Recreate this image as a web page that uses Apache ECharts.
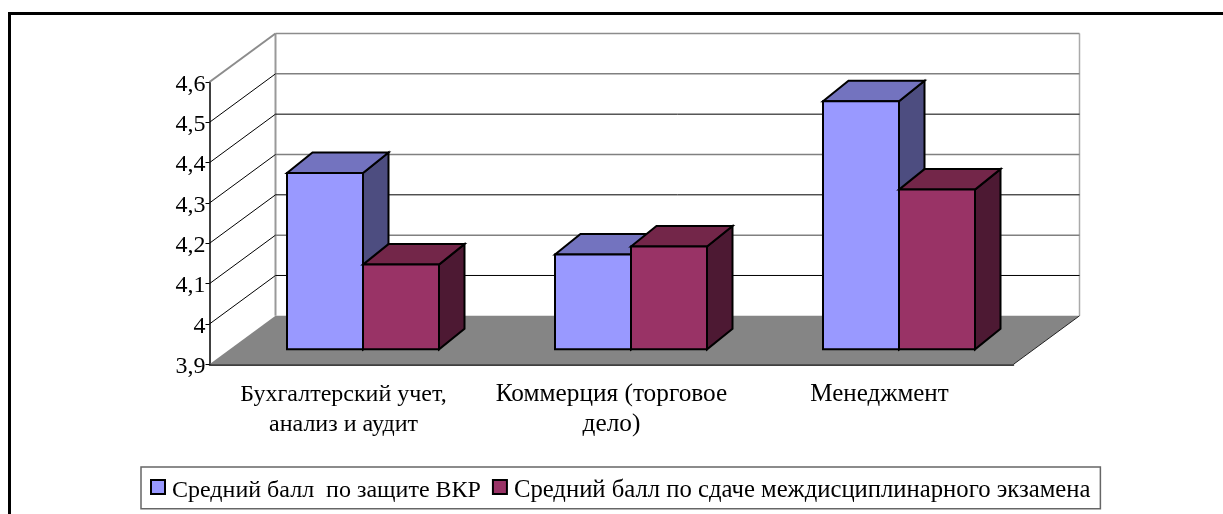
<!DOCTYPE html>
<html>
<head>
<meta charset="utf-8">
<style>
  html, body { margin: 0; padding: 0; background: #fff; }
  #chart { width: 1223px; height: 514px; }
</style>
</head>
<body>
<div id="chart"></div>
<script src="https://cdn.jsdelivr.net/npm/echarts@6/dist/echarts.min.js"></script>
<script>
const categories = ["Бухгалтерский учет,\nанализ и аудит", "Коммерция (торговое\nдело)", "Менеджмент"];
const defenseName = "Средний балл  по защите ВКР";
const examName = "Средний балл по сдаче междисциплинарного экзамена";
const defenseValues = [4.337, 4.135, 4.515];
const examValues = [4.11, 4.155, 4.296];
const yTicks = [3.9, 4.0, 4.1, 4.2, 4.3, 4.4, 4.5, 4.6];

const FONT = '"Liberation Serif", "Times New Roman", serif';
// fake 3d: the floor runs back by this much, bars stand a bit inside it
const wallShift = [66, -48.5];
const barShift = [19.5, -15];
const barDepth = [25.5, -20.5];
const barWidth = 76;
const categorySizes = [24, 25.3, 25];

const poly = (points, fill, stroke, lineWidth) => ({
  type: "polygon",
  shape: { points },
  style: { fill, stroke, lineWidth: lineWidth === undefined ? 2 : lineWidth, lineJoin: "miter" }
});
const line = (a, b, stroke, lineWidth) => ({
  type: "line",
  shape: { x1: a[0], y1: a[1], x2: b[0], y2: b[1] },
  style: { stroke, lineWidth }
});
const shift = (p, s) => [p[0] + s[0], p[1] + s[1]];

// floor, side diagonals and back wall lines
function renderFrame(params, api) {
  const rect = params.coordSys;
  const left = rect.x;
  const right = rect.x + rect.width;
  const v = api.value(0);
  const y = api.coord([0, v])[1];
  const i = params.dataIndex;
  const isTop = i === yTicks.length - 1;
  const isBottom = i === 0;
  const gray = i % 2 === 0;
  const front = [left, y];
  const back = shift(front, wallShift);
  const backRight = [right + wallShift[0], y + wallShift[1]];
  const children = [];
  if (isBottom) {
    children.push(poly([front, back, backRight, [right, y]], "#858585", "none", 0));
    children.push(line(back, [back[0], back[1] + (rect.y - y)], "#999", 2));
    children.push(line(backRight, [backRight[0], backRight[1] + (rect.y - y)], "#aaa", 1.5));
    children.push(line([right, y], backRight, "#222", 1));
  } else {
    children.push(line(back, backRight, isTop ? "#8c8c8c" : (gray ? "#808080" : "#000"), isTop || gray ? 1.5 : 1));
    children.push(line(front, back, isTop ? "#8c8c8c" : "#000", isTop ? 2 : 1));
  }
  return { type: "group", children };
}

function makeBarRenderer(slot, front, top, side) {
  return function (params, api) {
    const idx = api.value(0);
    const base = api.coord([idx, yTicks[0]]);
    const peak = api.coord([idx, api.value(1)]);
    const x0 = base[0] + (slot - 1) * barWidth + barShift[0];
    const x1 = x0 + barWidth;
    const yb = base[1] + barShift[1];
    const yt = peak[1] + barShift[1];
    const tl = [x0, yt], tr = [x1, yt], br = [x1, yb], bl = [x0, yb];
    return {
      type: "group",
      children: [
        poly([tr, shift(tr, barDepth), shift(br, barDepth), br], side, "#000"),
        poly([tl, shift(tl, barDepth), shift(tr, barDepth), tr], top, "#000"),
        poly([tl, tr, br, bl], front, "#000")
      ]
    };
  };
}

const chart = echarts.init(document.getElementById("chart"), null, { renderer: "canvas" });
chart.setOption({
  animation: false,
  backgroundColor: "#fff",
  grid: { left: 209.5, right: 209.5, top: 82, bottom: 149.7 },
  xAxis: {
    type: "category",
    data: categories.map((c, i) => ({ value: c, textStyle: { fontSize: categorySizes[i] } })),
    axisLine: { lineStyle: { color: "#000", width: 1.5 } },
    axisTick: { length: 6, lineStyle: { color: "#000" } },
    axisLabel: { color: "#000", fontFamily: FONT, fontSize: 24, lineHeight: 30, margin: 15, interval: 0 }
  },
  yAxis: {
    type: "value",
    min: 3.9,
    max: 4.6,
    interval: 0.1,
    splitLine: { show: false },
    axisLine: { show: true, lineStyle: { color: "#000", width: 1.5 } },
    axisTick: { show: true, length: 4, lineStyle: { color: "#000" } },
    axisLabel: {
      color: "#000", fontFamily: FONT, fontSize: 24, margin: 4,
      formatter: (val) => "{t|" + (Math.round(val * 10) / 10).toString().replace(".", ",") + "}",
      rich: { t: { fontFamily: FONT, fontSize: 24, color: "#000", padding: [5, 0, 0, 0] } }
    }
  },
  legend: {
    left: 141,
    top: 467,
    padding: [11, 10, 5.7, 9],
    itemWidth: 14,
    itemHeight: 14,
    itemGap: 11,
    borderColor: "#666",
    borderWidth: 1.5,
    backgroundColor: "#fff",
    formatter: (name) => (name === examName ? "{b|" : "{a|") + name + "}",
    textStyle: {
      color: "#000", fontFamily: FONT, fontSize: 24,
      rich: {
        a: { fontFamily: FONT, fontSize: 24, color: "#000", padding: [7, 0, 0, 2] },
        b: { fontFamily: FONT, fontSize: 24.7, color: "#000", padding: [7, 0, 0, 2] }
      }
    },
    data: [
      { name: defenseName, icon: "rect", itemStyle: { borderColor: "#000", borderWidth: 2 } },
      { name: examName, icon: "rect", itemStyle: { borderColor: "#000", borderWidth: 2 } }
    ]
  },
  graphic: [{
    type: "polyline",
    shape: { points: [[9.5, 514], [9.5, 13.5], [1223, 13.5]] },
    style: { fill: "none", stroke: "#000", lineWidth: 3 },
    silent: true
  }],
  series: [
    {
      type: "custom",
      name: "frame",
      coordinateSystem: "cartesian2d",
      encode: { y: 0 },
      renderItem: renderFrame,
      data: yTicks.map((t) => [t]),
      z: 1,
      silent: true
    },
    {
      type: "custom",
      name: defenseName,
      renderItem: makeBarRenderer(0, "#9999ff", "#7373bf", "#4d4d80"),
      encode: { x: 0, y: 1 },
      data: defenseValues.map((v, i) => [i, v]),
      itemStyle: { color: "#9999ff" },
      z: 2
    },
    {
      type: "custom",
      name: examName,
      renderItem: makeBarRenderer(1, "#993366", "#732649", "#4d1933"),
      encode: { x: 0, y: 1 },
      data: examValues.map((v, i) => [i, v]),
      itemStyle: { color: "#993366" },
      z: 3
    }
  ]
});
</script>
</body>
</html>
